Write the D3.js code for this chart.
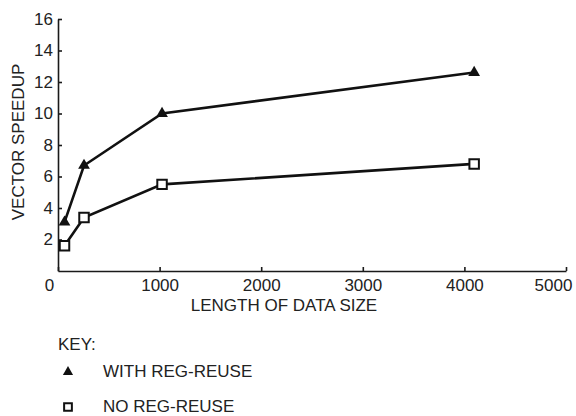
<!DOCTYPE html>
<html>
<head>
<meta charset="utf-8">
<script src="https://cdn.jsdelivr.net/npm/d3@7"></script>
<style>
  body { margin: 0; background: #fff; }
  svg text { font-family: "Liberation Sans", Arial, sans-serif; fill: #222; }
</style>
</head>
<body>
<svg></svg>
<script>
// ----- Data ----- //
var sizes = [64, 256, 1024, 4096];
var withReuse = [3.1, 6.7, 10.0, 12.6];
var noReuse = [1.6, 3.4, 5.5, 6.8];
var xTicks = [0, 1000, 2000, 3000, 4000, 5000];
var yTicks = [2, 4, 6, 8, 10, 12, 14, 16];

var svgWidth = 576;
var svgHeight = 416;
var fontSize = 17;

var svg = d3.select("svg")
  .attr('width', svgWidth)
  .attr('height', svgHeight);

// ----- Scales ----- //
var x = d3.scaleLinear().domain([0, 5000]).range([58, 566]);
var y = d3.scaleLinear().domain([0, 16]).range([271, 19]);

// ----- Axes ----- //
var xAxis = svg.append('g')
  .attr('transform', translate(0, y(0)))
  .call(d3.axisBottom(x).tickValues(xTicks).tickFormat(d3.format('d'))
    .tickSizeInner(-4).tickSizeOuter(0).tickPadding(8));

var yAxis = svg.append('g')
  .attr('transform', translate(x(0), 0))
  .call(d3.axisLeft(y).tickValues(yTicks).tickFormat(d3.format('d'))
    .tickSizeInner(-4).tickSizeOuter(0).tickPadding(5));

[xAxis, yAxis].forEach(function(a) {
  a.selectAll('path, line').attr('stroke', '#1a1a1a').attr('stroke-width', 1.6);
  a.selectAll('text').style('font-size', fontSize + 'px').attr('fill', '#222');
});
// end labels sit inside the axis ends
xAxis.selectAll('.tick text').filter(function(d) { return d === 0; }).attr('dx', -9);
xAxis.selectAll('.tick text').filter(function(d) { return d === 5000; }).attr('dx', -13);

// ----- Axis titles ----- //
svg.append('text')
  .attr('transform', 'translate(24,142) rotate(-90)')
  .attr('text-anchor', 'middle')
  .style('font-size', fontSize + 'px')
  .text('VECTOR SPEEDUP');

svg.append('text')
  .attr('x', 284)
  .attr('y', 311)
  .attr('text-anchor', 'middle')
  .style('font-size', fontSize + 'px')
  .text('LENGTH OF DATA SIZE');

// ----- Lines ----- //
var line = d3.line()
  .x(function(d) { return x(d[0]); })
  .y(function(d) { return y(d[1]); });

var triPts = d3.zip(sizes, withReuse);
var sqPts = d3.zip(sizes, noReuse);

[triPts, sqPts].forEach(function(pts) {
  svg.append('path')
    .datum(pts)
    .attr('d', line)
    .attr('fill', 'none')
    .attr('stroke', '#111')
    .attr('stroke-width', 2.6);
});

var tri = d3.symbol().type(d3.symbolTriangle).size(60);
var sq = d3.symbol().type(d3.symbolSquare).size(90);

svg.selectAll('.tri')
  .data(triPts)
  .enter()
  .append('path')
  .attr('class', 'tri')
  .attr('d', tri)
  .attr('transform', function(d) { return translate(x(d[0]), y(d[1])); })
  .attr('fill', '#111');

svg.selectAll('.sq')
  .data(sqPts)
  .enter()
  .append('path')
  .attr('class', 'sq')
  .attr('d', sq)
  .attr('transform', function(d) { return translate(x(d[0]), y(d[1])); })
  .attr('fill', '#fff')
  .attr('stroke', '#111')
  .attr('stroke-width', 2);

// ----- Key ----- //
svg.append('text')
  .attr('x', 58)
  .attr('y', 350)
  .style('font-size', fontSize + 'px')
  .text('KEY:');

svg.append('path')
  .attr('d', d3.symbol().type(d3.symbolTriangle).size(45))
  .attr('transform', translate(68, 372))
  .attr('fill', '#111');
svg.append('text')
  .attr('x', 103)
  .attr('y', 377)
  .style('font-size', fontSize + 'px')
  .text('WITH REG-REUSE');

svg.append('path')
  .attr('d', d3.symbol().type(d3.symbolSquare).size(60))
  .attr('transform', translate(68, 407))
  .attr('fill', '#fff')
  .attr('stroke', '#111')
  .attr('stroke-width', 2);
svg.append('text')
  .attr('x', 103)
  .attr('y', 412)
  .style('font-size', fontSize + 'px')
  .text('NO REG-REUSE');

function translate(a, b) {
  return 'translate(' + a + ',' + b + ')';
}
</script>
</body>
</html>
